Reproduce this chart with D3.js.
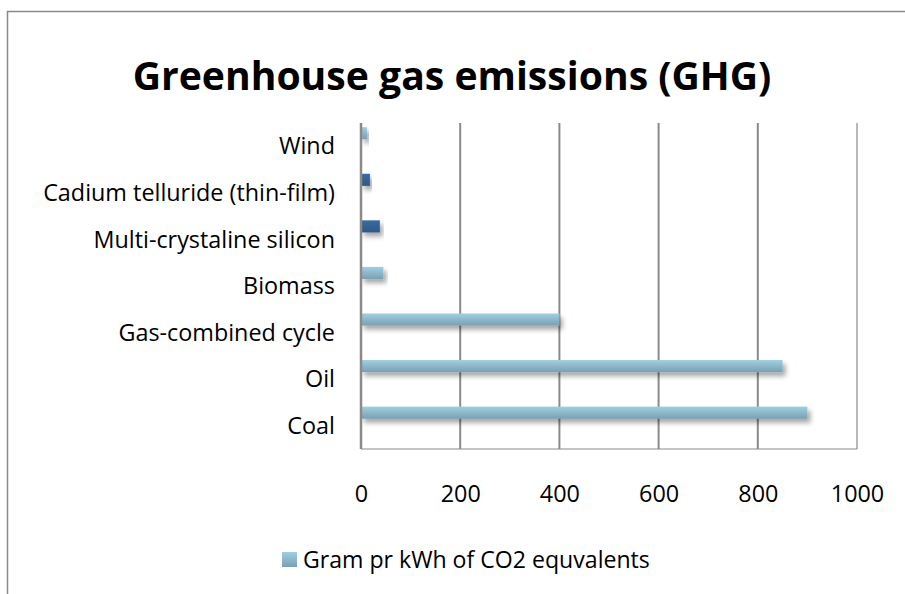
<!DOCTYPE html>
<html>
<head>
<meta charset="utf-8">
<script src="https://cdn.jsdelivr.net/npm/d3@7"></script>
<style>
  body { margin: 0; background: #fff; }
  text { font-family: "Open Sans", sans-serif; fill: #000; }
</style>
</head>
<body>
<div id="ghg-chart"></div>
<script>
// data (bottom to top as in the source)
const categories = ["Coal", "Oil", "Gas-combined cycle", "Biomass",
  "Multi-crystaline silicon", "Cadium telluride (thin-film)", "Wind"];
const values = [900, 850, 400, 45, 38, 18, 12];
const solar = ["Multi-crystaline silicon", "Cadium telluride (thin-film)"];
const xTicks = [0, 200, 400, 600, 800, 1000];
const seriesName = "Gram pr kWh of CO2 equvalents";
const title = "Greenhouse gas emissions (GHG)";

const data = categories.map((c, i) => ({ cat: c, value: values[i] }));

const width = 905;
const height = 594;
const margin = { top: 123, right: 48, bottom: 145, left: 361 };
const innerWidth = width - margin.left - margin.right;
const innerHeight = height - margin.top - margin.bottom;

const svg = d3.select("#ghg-chart").append("svg")
  .attr("width", width)
  .attr("height", height);

// the source font (Calibri) is not here, so size the text to the widths in the picture
const fitSize = (sel, target) => {
  const len = sel.node().getComputedTextLength();
  const size = parseFloat(sel.style("font-size"));
  return size * target / len;
};

// gradients + shadow
const defs = svg.append("defs");
const grad = (id, top, bottom) => {
  const lg = defs.append("linearGradient").attr("id", id)
    .attr("x1", 0).attr("y1", 0).attr("x2", 0).attr("y2", 1);
  lg.append("stop").attr("offset", "0%").attr("stop-color", top);
  lg.append("stop").attr("offset", "100%").attr("stop-color", bottom);
};
grad("lightBar", "#a0cfe1", "#7a9fb2");
grad("darkBar", "#3a6ba3", "#2e5888");
const shadow = defs.append("filter").attr("id", "shadow")
  .attr("x", "-10%").attr("y", "-50%").attr("width", "130%").attr("height", "250%");
shadow.append("feDropShadow")
  .attr("dx", 3).attr("dy", 4).attr("stdDeviation", 2.5)
  .attr("flood-color", "#000").attr("flood-opacity", 0.35);

// outer chart border (only top and left are inside the window)
svg.append("path")
  .attr("d", `M7.5,${height}V11.5H${width}`)
  .attr("fill", "none")
  .attr("stroke", "#8a8a8a")
  .attr("stroke-width", 1.5);

// title
const titleText = svg.append("text")
  .attr("x", 452)
  .attr("y", 90)
  .attr("text-anchor", "middle")
  .style("font-weight", "bold")
  .style("font-size", "40px")
  .text(title);
titleText.style("font-size", fitSize(titleText, 639) + "px");

const g = svg.append("g")
  .attr("transform", `translate(${margin.left},${margin.top})`);

const x = d3.scaleLinear()
  .domain([0, 1000])
  .range([0, innerWidth]);

const y = d3.scaleBand()
  .domain(categories.slice().reverse())
  .range([0, innerHeight])
  .padding(0);

// gridlines
g.selectAll(".grid")
  .data(xTicks.filter((t) => t > 0))
  .enter()
  .append("line")
  .attr("x1", (d) => x(d)).attr("x2", (d) => x(d))
  .attr("y1", 0).attr("y2", innerHeight)
  .attr("stroke", "#8a8a8a")
  .attr("stroke-width", (d) => (d === 1000 ? 1.2 : 2));

// bottom border of plot area
g.append("line")
  .attr("x1", 0).attr("x2", innerWidth)
  .attr("y1", innerHeight).attr("y2", innerHeight)
  .attr("stroke", "#8a8a8a")
  .attr("stroke-width", 1.2);

// bars
g.selectAll(".bar")
  .data(data)
  .enter()
  .append("rect")
  .attr("class", "bar")
  .attr("x", x(0))
  .attr("y", (d) => y(d.cat) + y.bandwidth() * 0.09)
  .attr("width", (d) => x(d.value) - x(0))
  .attr("height", y.bandwidth() * 0.26)
  .attr("fill", (d) => (solar.includes(d.cat) ? "url(#darkBar)" : "url(#lightBar)"))
  .attr("filter", "url(#shadow)");

// y axis line
g.append("line")
  .attr("x1", 0).attr("x2", 0)
  .attr("y1", 0).attr("y2", innerHeight)
  .attr("stroke", "#8a8a8a")
  .attr("stroke-width", 2.5);

// category labels
const catLabels = g.selectAll(".cat")
  .data(categories)
  .enter()
  .append("text")
  .attr("class", "cat")
  .attr("x", -26)
  .attr("y", (d) => y(d) + y.bandwidth() / 2)
  .attr("dy", "0.35em")
  .attr("text-anchor", "end")
  .style("font-size", "20px")
  .text((d) => d);
const labelSize = fitSize(catLabels.filter((d) => d === "Cadium telluride (thin-film)"), 292);
catLabels.style("font-size", labelSize + "px");

// x tick labels
const xAxis = d3.axisBottom(x).tickValues(xTicks).tickSize(0).tickPadding(0)
  .tickFormat(d3.format("d"));
const ax = g.append("g")
  .attr("transform", `translate(0,${innerHeight + 45})`)
  .call(xAxis);
ax.select(".domain").remove();
ax.selectAll("text")
  .attr("y", 0)
  .attr("dy", "0.35em")
  .style("font-size", labelSize + "px")
  .style("font-family", "'Open Sans', sans-serif")
  .attr("fill", "#000");

// legend
const legend = svg.append("g").attr("transform", "translate(282,552)");
legend.append("rect")
  .attr("width", 15).attr("height", 15)
  .attr("fill", "url(#lightBar)");
const legendText = legend.append("text")
  .attr("x", 21)
  .attr("y", 8)
  .attr("dy", "0.35em")
  .style("font-size", "20px")
  .text(seriesName);
legendText.style("font-size", fitSize(legendText, 347) + "px");
</script>
</body>
</html>
